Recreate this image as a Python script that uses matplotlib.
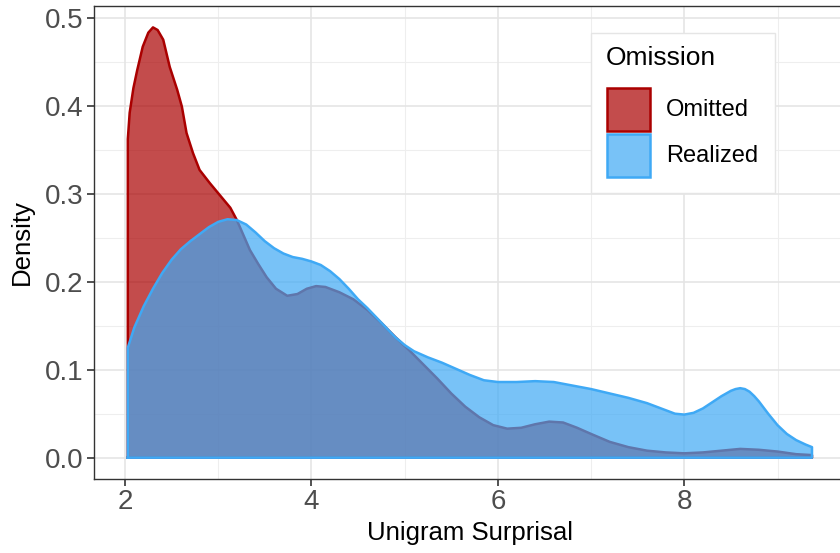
import matplotlib
matplotlib.use("Agg")
import matplotlib.pyplot as plt
from matplotlib.patches import Rectangle

plt.rcParams['font.family'] = ['Liberation Sans', 'DejaVu Sans']

# Density curves
omitted_x = [2.03, 2.05, 2.09, 2.13, 2.19, 2.25, 2.30, 2.35, 2.41, 2.48, 2.56, 2.61, 2.66, 2.73,
             2.80, 2.91, 3.02, 3.13, 3.20, 3.27, 3.34, 3.43, 3.52, 3.62, 3.74, 3.85,
             3.95, 4.05, 4.15, 4.30, 4.45, 4.60, 4.75, 4.90, 5.05, 5.20, 5.35, 5.50,
             5.65, 5.80, 5.95, 6.10, 6.25, 6.40, 6.55, 6.70, 6.85, 7.00, 7.20, 7.40,
             7.60, 7.80, 8.00, 8.20, 8.40, 8.60, 8.80, 9.00, 9.20, 9.37]
omitted_y = [0.362, 0.392, 0.420, 0.440, 0.467, 0.483, 0.489, 0.486, 0.475, 0.444, 0.418, 0.399, 0.369, 0.346,
             0.327, 0.312, 0.298, 0.284, 0.270, 0.253, 0.236, 0.220, 0.205, 0.192, 0.184, 0.186,
             0.192, 0.195, 0.194, 0.188, 0.180, 0.168, 0.153, 0.137, 0.122, 0.106, 0.090, 0.073,
             0.058, 0.046, 0.037, 0.033, 0.034, 0.038, 0.041, 0.040, 0.034, 0.027, 0.018, 0.012,
             0.008, 0.006, 0.005, 0.006, 0.008, 0.010, 0.009, 0.007, 0.004, 0.003]

realized_x = [2.03, 2.10, 2.20, 2.30, 2.40, 2.50, 2.60, 2.70, 2.80, 2.90, 3.00, 3.10, 3.20,
              3.30, 3.40, 3.50, 3.60, 3.70, 3.80, 3.90, 4.00, 4.10, 4.20, 4.30, 4.40,
              4.50, 4.60, 4.70, 4.80, 4.90, 5.00, 5.10, 5.25, 5.40, 5.55, 5.70, 5.85,
              6.00, 6.20, 6.40, 6.60, 6.80, 7.00, 7.20, 7.40, 7.60, 7.80, 7.90, 8.00, 8.10,
              8.20, 8.30, 8.40, 8.50, 8.55, 8.60, 8.65, 8.70, 8.75, 8.80, 8.90, 9.00, 9.10,
              9.20, 9.30, 9.37]
realized_y = [0.125, 0.148, 0.172, 0.192, 0.210, 0.225, 0.237, 0.246, 0.254, 0.262, 0.268, 0.271, 0.270,
              0.265, 0.256, 0.246, 0.238, 0.232, 0.228, 0.226, 0.223, 0.219, 0.212, 0.203, 0.192,
              0.180, 0.170, 0.159, 0.148, 0.137, 0.128, 0.121, 0.114, 0.108, 0.101, 0.094, 0.088,
              0.086, 0.086, 0.087, 0.086, 0.082, 0.078, 0.073, 0.068, 0.062, 0.054, 0.050, 0.049, 0.051,
              0.056, 0.063, 0.070, 0.076, 0.078, 0.079, 0.078, 0.075, 0.070, 0.064, 0.050, 0.037, 0.027,
              0.020, 0.015, 0.012]

series_names = ["Omitted", "Realized"]
line_colors = ["#AA0000", "#3FA9F5"]
legend_title = "Omission"
x_ticks = [2, 4, 6, 8]
y_ticks = [0.0, 0.1, 0.2, 0.3, 0.4, 0.5]

W, H = 840, 553
fig = plt.figure(figsize=(W / 100, H / 100), dpi=100)
ax = fig.add_axes([93.6 / W, 74 / H, 752.6 / W, 473 / H])
ax.set_xlim(1.663, 9.737)
ax.set_ylim(-0.0242, 0.5133)

# grid
for v in [3, 5, 7, 9]:
    ax.axvline(v, color="#EEEEEE", lw=0.8, zorder=0)
for v in [0.05, 0.15, 0.25, 0.35, 0.45]:
    ax.axhline(v, color="#EEEEEE", lw=0.8, zorder=0)
for v in x_ticks:
    ax.axvline(v, color="#E5E5E5", lw=1.2, zorder=0)
for v in y_ticks:
    ax.axhline(v, color="#E5E5E5", lw=1.2, zorder=0)

z = 2
for xs, ys, c in [(omitted_x, omitted_y, line_colors[0]), (realized_x, realized_y, line_colors[1])]:
    px = [xs[0]] + list(xs) + [xs[-1], xs[0]]
    py = [0.0] + list(ys) + [0.0, 0.0]
    ax.fill(px, py, facecolor=c, alpha=0.7, edgecolor="none", zorder=z)
    ax.plot(px, py, color=c, lw=1.8, zorder=z + 0.5, solid_joinstyle="round")
    z += 1

for s in ax.spines.values():
    s.set_color("#333333")
    s.set_linewidth(1.0)

ax.set_xticks(x_ticks)
ax.set_xticklabels([str(t) for t in x_ticks])
ax.set_yticks(y_ticks)
ax.set_yticklabels([f"{t:.1f}" for t in y_ticks])
ax.tick_params(axis="both", colors="#333333", labelcolor="#4D4D4D", labelsize=20,
               length=5, width=1.2, pad=2.5)

ax.set_xlabel("Unigram Surprisal", fontsize=18.5, color="black", labelpad=4)
ax.set_ylabel("Density", fontsize=18.5, color="black", labelpad=8)

# Legend drawn manually in pixel coordinates
def fx(p):
    return p / W

def fy(p):
    return 1 - p / H

fig.patches.append(Rectangle((fx(591), fy(193)), (775 - 591) / W, (193 - 33) / H,
                             transform=fig.transFigure, facecolor="white",
                             edgecolor="#E5E5E5", lw=1.0, zorder=5))
fig.text(fx(606), fy(58), legend_title, fontsize=19, color="black",
         ha="left", va="center", zorder=6)
key_tops = [88, 134]
for name, c, top in zip(series_names, line_colors, key_tops):
    fig.patches.append(Rectangle((fx(607), fy(top + 43)), 43 / W, 43 / H,
                                 transform=fig.transFigure, facecolor=c, alpha=0.7,
                                 edgecolor="none", zorder=6))
    fig.patches.append(Rectangle((fx(607), fy(top + 43)), 43 / W, 43 / H,
                                 transform=fig.transFigure, facecolor="none",
                                 edgecolor=c, lw=1.8, zorder=7))
    fig.text(fx(666), fy(top + 21.5), name, fontsize=17, color="black",
             ha="left", va="center", zorder=6)

fig.savefig("out.png", dpi=100)
